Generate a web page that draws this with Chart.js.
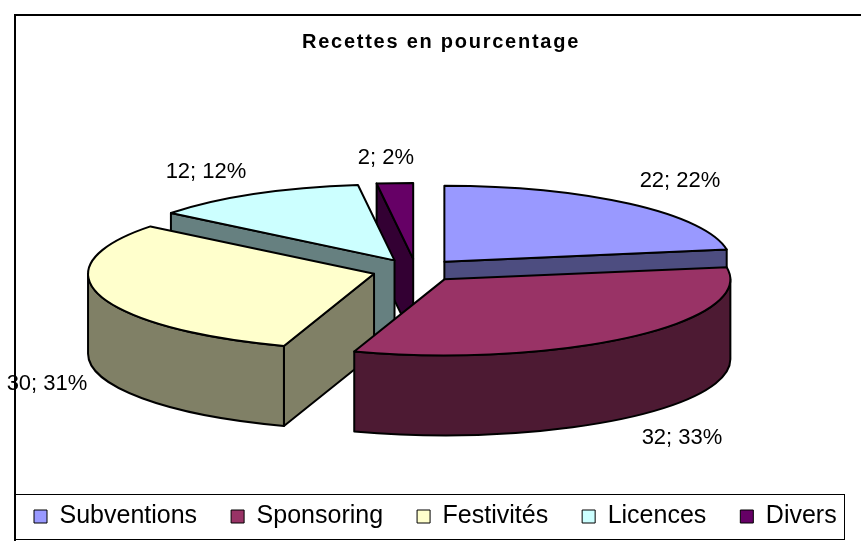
<!DOCTYPE html>
<html lang="fr">
<head>
<meta charset="utf-8">
<title>Recettes en pourcentage</title>
<script src="https://cdn.jsdelivr.net/npm/chart.js@4"></script>
<style>
  html, body { margin: 0; padding: 0; background: #fff; overflow: hidden; }
  canvas { display: block; }
</style>
</head>
<body>
<canvas id="chart" width="861" height="541"></canvas>
<script>
// Data
const chartTitle = "Recettes en pourcentage";
const categories = ["Subventions", "Sponsoring", "Festivités", "Licences", "Divers"];
const values = [22, 32, 30, 12, 2];
const percents = [22, 33, 31, 12, 2];

// Colours: top of the slice, then its darker side
const topColors = ["#9999FF", "#993366", "#FFFFCC", "#CCFFFF", "#660066"];
const sideColors = ["#4D4D80", "#4D1A33", "#808066", "#668080", "#330033"];

// Pie projection: the library's circle is squashed into this ellipse
const center = { x: 416, y: 270.5 };
const radiusX = 286;
const radiusY = 76;
const depth = 80;
const explode = 15.3; // percent of the radius

// Back slices first, so the front ones cover them
const drawOrder = [4, 3, 0, 2, 1];

// Centre of each "value; percent" text
const labelSpots = [
  { x: 680, y: 181 },
  { x: 682, y: 438 },
  { x: 47, y: 384 },
  { x: 206, y: 172 },
  { x: 386, y: 158 },
];

const FONT = '"Liberation Sans", Arial, sans-serif';

function sliceGeometry(arc) {
  const props = arc.getProps(["startAngle", "endAngle"], true);
  const mid = (props.startAngle + props.endAngle) / 2;
  return {
    start: props.startAngle,
    end: props.endAngle,
    x: center.x + (Math.cos(mid) * radiusX * arc.options.offset) / 100,
    y: center.y + (Math.sin(mid) * radiusY * arc.options.offset) / 100,
  };
}

function rimPoint(g, angle, drop) {
  return {
    x: g.x + Math.cos(angle) * radiusX,
    y: g.y + Math.sin(angle) * radiusY + drop,
  };
}

function paint(ctx, fill) {
  ctx.fillStyle = fill;
  ctx.fill();
  ctx.stroke();
}

function drawRadialWall(ctx, g, angle, fill) {
  const a = rimPoint(g, angle, 0);
  const b = rimPoint(g, angle, depth);
  ctx.beginPath();
  ctx.moveTo(g.x, g.y);
  ctx.lineTo(a.x, a.y);
  ctx.lineTo(b.x, b.y);
  ctx.lineTo(g.x, g.y + depth);
  ctx.closePath();
  paint(ctx, fill);
}

function drawRimWall(ctx, g, fill) {
  // only the part of the rim that faces the viewer (canvas angles 0..PI)
  const from = Math.max(g.start, 0);
  const to = Math.min(g.end, Math.PI);
  if (to <= from) return;
  ctx.beginPath();
  ctx.ellipse(g.x, g.y, radiusX, radiusY, 0, from, to);
  ctx.ellipse(g.x, g.y + depth, radiusX, radiusY, 0, to, from, true);
  ctx.closePath();
  paint(ctx, fill);
}

function drawTop(ctx, g, fill) {
  ctx.beginPath();
  ctx.moveTo(g.x, g.y);
  ctx.ellipse(g.x, g.y, radiusX, radiusY, 0, g.start, g.end);
  ctx.closePath();
  paint(ctx, fill);
}

const pie3d = {
  id: "pie3d",
  beforeDraw(chart) {
    const ctx = chart.ctx;
    ctx.save();
    ctx.fillStyle = "#fff";
    ctx.fillRect(0, 0, chart.width, chart.height);
    ctx.strokeStyle = "#000";
    // outer frame, cut by the window on the right and at the bottom
    ctx.lineWidth = 2;
    ctx.beginPath();
    ctx.moveTo(15, chart.height);
    ctx.lineTo(15, 15);
    ctx.lineTo(chart.width, 15);
    ctx.stroke();
    // legend frame
    ctx.lineWidth = 1;
    ctx.strokeRect(14.5, 494.5, 830, 45);
    ctx.restore();
  },
  beforeDatasetsDraw(chart) {
    const ctx = chart.ctx;
    const arcs = chart.getDatasetMeta(0).data;
    ctx.save();
    ctx.strokeStyle = "#000";
    ctx.lineWidth = 2;
    ctx.lineJoin = "round";
    drawOrder.forEach((i) => {
      const g = sliceGeometry(arcs[i]);
      // a cut face shows only when it looks towards the viewer
      if (Math.cos(g.start) < -0.001) drawRadialWall(ctx, g, g.start, sideColors[i]);
      if (Math.cos(g.end) > 0.001) drawRadialWall(ctx, g, g.end, sideColors[i]);
      drawRimWall(ctx, g, sideColors[i]);
      drawTop(ctx, g, topColors[i]);
    });
    // value labels
    ctx.fillStyle = "#000";
    ctx.font = "22px " + FONT;
    ctx.textAlign = "center";
    ctx.textBaseline = "middle";
    values.forEach((v, i) => {
      ctx.fillText(v + "; " + percents[i] + "%", labelSpots[i].x, labelSpots[i].y);
    });
    // title, spaced out like the original
    ctx.font = "bold 20px " + FONT;
    ctx.letterSpacing = "1.75px";
    ctx.textBaseline = "alphabetic";
    ctx.fillText(chartTitle, 441, 48);
    ctx.restore();
    return false; // the library's flat arcs are replaced by the ones above
  },
};

new Chart(document.getElementById("chart"), {
  type: "pie",
  data: {
    labels: categories,
    datasets: [
      {
        data: values,
        backgroundColor: topColors,
        borderColor: "#000",
        borderWidth: 1,
        offset: explode,
      },
    ],
  },
  options: {
    responsive: false,
    animation: false,
    // negative right padding: the legend row needs a little more than the canvas width to stay on one line
    layout: { padding: { bottom: 2, right: -40 } },
    plugins: {
      title: { display: false },
      legend: {
        position: "bottom",
        align: "start",
        labels: {
          color: "#000",
          font: { family: FONT, size: 25 },
          boxWidth: 13,
          boxHeight: 13,
          padding: 34,
        },
      },
      tooltip: { enabled: false },
    },
  },
  plugins: [pie3d],
});
</script>
</body>
</html>
